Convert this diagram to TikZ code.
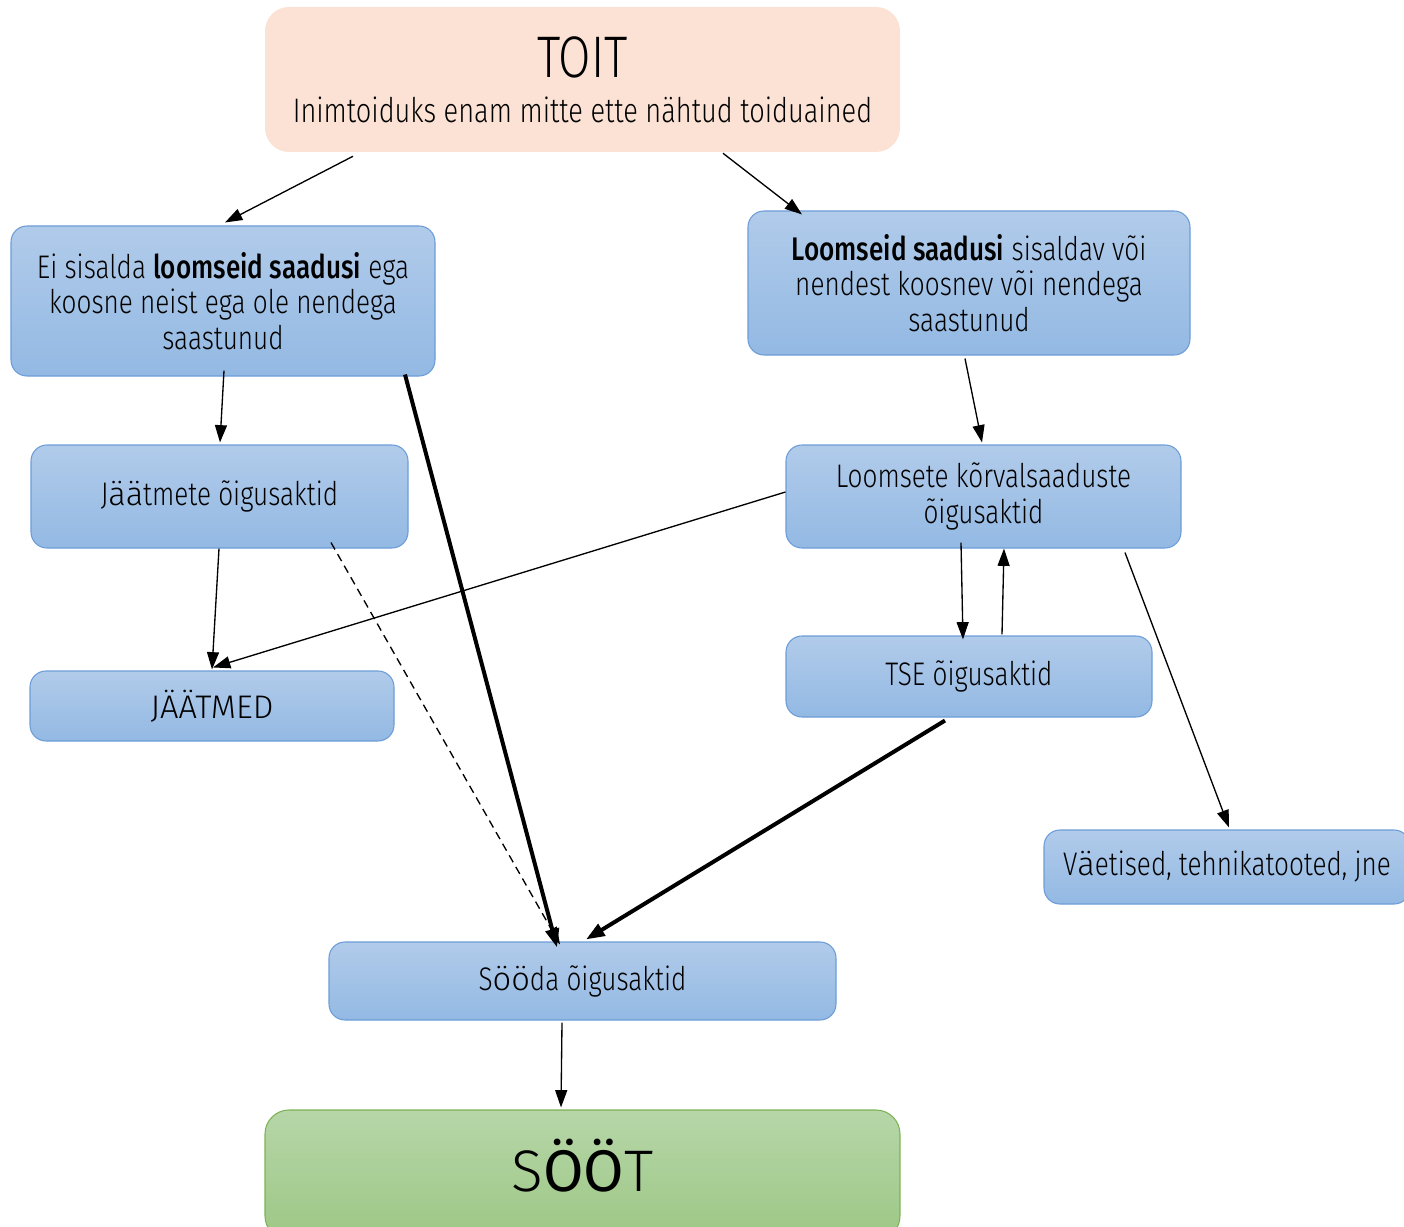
\documentclass[tikz,border=0pt]{standalone}
\usepackage{fontspec}
\setmainfont{Fira Sans}[FakeStretch=0.8, UprightFont=* Light, BoldFont=* Medium]
\newfontfamily\widefont{Fira Sans}[UprightFont=* Light, BoldFont=*]
\usepackage{tikz}
\usepackage{xcolor}
\usetikzlibrary{arrows.meta,calc}

\definecolor{toitfill}{RGB}{251,226,213}
\definecolor{bluetop}{RGB}{177,203,234}
\definecolor{bluebot}{RGB}{147,185,227}
\definecolor{blueline}{RGB}{108,157,216}
\definecolor{greentop}{RGB}{182,214,168}
\definecolor{greenbot}{RGB}{157,199,133}
\definecolor{greenline}{RGB}{125,178,85}

% letters that the reference sets in a wider face
\newcommand{\wl}[1]{{\widefont #1}}

\tikzset{
	box/.style={rectangle, rounded corners=12pt, draw=blueline, line width=0.8pt,
		top color=bluetop, bottom color=bluebot, align=center, inner sep=0pt,
		font=\fontsize{24.5}{26.5}\selectfont},
	thinarrow/.style={-{Triangle[length=13pt,width=9pt]}, line width=1pt},
	thickarrow/.style={-{Triangle[length=14pt,width=10pt]}, line width=3pt},
}

\begin{document}
\begin{tikzpicture}[x=0.75pt, y=-0.75pt]
		\useasboundingbox (0,0) rectangle (1404,1227);
		\clip (0,0) rectangle (1404,1227);
		% nodes
		\node[rectangle, rounded corners=18pt, fill=toitfill, minimum width=476.25pt, minimum height=108.75pt, align=center, inner sep=0pt] (toit) at (582.5,79.5)
			{\fontsize{44}{50}\selectfont TOIT\\[13pt]\fontsize{25.5}{30}\selectfont Inimtoiduks enam mitte ette nähtud toiduained};
		\node[box, minimum width=318pt, minimum height=112.5pt] (ohne) at (223,301)
			{Ei sisalda \textbf{loomseid saadusi} ega\\koosne neist ega ole nendega\\saastunud};
		\node[box, minimum width=331.5pt, minimum height=108pt] (loom) at (969,283)
			{\textbf{Loomseid saadusi} sisaldav või\\nendest koosnev või nendega\\saastunud};
		\node[box, minimum width=282.75pt, minimum height=77.25pt] (jaatoig) at (219.5,496.5)
			{J\wl{ää}tmete õigusaktid};
		\node[box, minimum width=296.25pt, minimum height=77.25pt] (korv) at (983.5,496.5)
			{Loomsete kõrvalsaaduste\\õigusaktid};
		\node[box, minimum width=273pt, minimum height=52.5pt] (jaatmed) at (212,706)
			{\wl{JÄÄTMED}};
		\node[box, minimum width=274.5pt, minimum height=60.75pt] (tse) at (969,676.5)
			{TSE õigusaktid};
		\node[box, minimum width=274.5pt, minimum height=55.5pt] (vaet) at (1227,867)
			{V\wl{ä}etised, tehnikatooted, jne};
		\node[box, minimum width=380.25pt, minimum height=58.5pt] (sooda) at (582.5,981)
			{S\wl{öö}da õigusaktid};
		\node[rectangle, rounded corners=18pt, draw=greenline, line width=0.8pt, top color=greentop, bottom color=greenbot,
			minimum width=476.25pt, minimum height=97.5pt, inner sep=0pt] (soot) at (582.5,1175)
			{\raisebox{14pt}{\widefont\fontsize{44}{50}\selectfont S\textbf{ÖÖ}T}};
		% connectors
		\draw[thinarrow] ($(toit.south)+(-229.5,4)$) -- ($(ohne.north)+(2,-3)$);
		\draw[thinarrow] ($(toit.south)+(140.5,1)$) -- ($(loom.north)+(-167,4)$);
		\draw[thinarrow] ($(ohne.south)+(1,-6)$) -- ($(jaatoig.north)+(0.5,-2)$);
		\draw[thinarrow] ($(loom.south)+(-4,3)$) -- ($(korv.north)+(-1.5,-2)$);
		\draw[thinarrow] ($(jaatoig.south)+(-0.5,0)$) -- ($(jaatmed.north)+(0,-1)$);
		\draw[thinarrow] ($(korv.west)+(0,-4.5)$) -- ($(jaatmed.north)+(1,-3)$);
		\draw[line width=1pt, dash pattern=on 6pt off 4pt, -{Triangle[length=13pt,width=9pt]}] ($(jaatoig.south)+(111.5,-6)$) -- ($(sooda.north)+(-22.5,3)$);
		\draw[thickarrow] ($(ohne.south)+(182,-2)$) -- ($(sooda.north)+(-25.5,6)$);
		\draw[thinarrow] ($(korv.south)+(-22.5,-6)$) -- ($(tse.north)+(-6,4)$);
		\draw[thinarrow] ($(tse.north)+(33,-1)$) -- ($(korv.south)+(20.5,0)$);
		\draw[thinarrow] ($(korv.south)+(141.5,4)$) -- ($(vaet.north)+(2,-2)$);
		\draw[thickarrow] ($(tse.south)+(-24,3)$) -- ($(sooda.north)+(3.5,-2)$);
		\draw[thinarrow] ($(sooda.south)+(-20.5,2)$) -- ($(soot.north)+(-21.5,-2)$);
	\end{tikzpicture}
\end{document}
